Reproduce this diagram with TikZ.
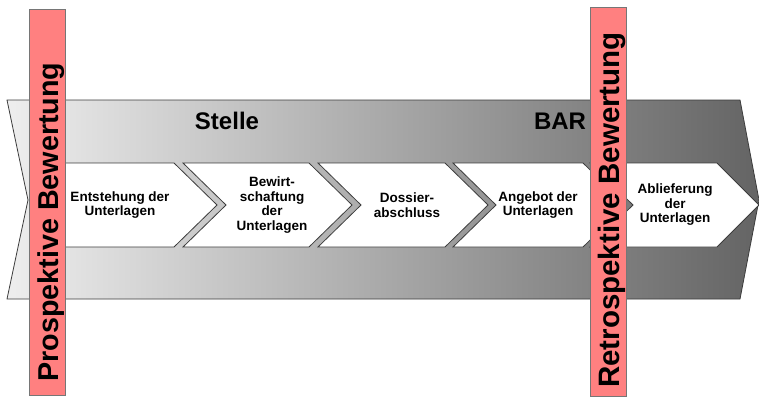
\documentclass[tikz,border=0pt]{standalone}
\usepackage{fontspec}
\setmainfont{Liberation Sans}
\definecolor{barred}{RGB}{255,128,128}
\definecolor{bandleft}{RGB}{238,238,238}
\definecolor{bandright}{RGB}{100,100,100}
\definecolor{edgecol}{RGB}{60,60,60}
\tikzset{
  chev/.style={fill=white, draw=edgecol, line width=0.8pt, line join=miter},
  steptext/.style={font=\fontsize{13.5}{14.5}\selectfont\bfseries, align=center, inner sep=0pt},
  bartext/.style={rotate=90, anchor=base, inner sep=0pt},
  barbox/.style={fill=barred, draw=edgecol!70, line width=0.8pt},
  hdr/.style={font=\fontsize{24}{26}\selectfont\bfseries, inner sep=0pt}
}
\begin{document}
\begin{tikzpicture}[x=1pt,y=-1pt]
\useasboundingbox (0,0) rectangle (759,396);
% big background arrow
\shadedraw[left color=bandleft, right color=bandright, draw=edgecol, line width=0.8pt]
  (7,100) -- (740,100) -- (759,200) -- (740,299) -- (7,299) -- (28,200) -- cycle;
% headers
\node[hdr] (stelle) at (227,121) {Stelle};
\node[hdr] (bar) at (560,121) {BAR};
% chevrons
\draw[chev] (45,163) -- (174,163) -- (217,205) -- (174,247) -- (45,247) -- cycle;
\draw[chev] (183,163) -- (309,163) -- (352,205) -- (309,247) -- (183,247) -- (226,205) -- cycle;
\draw[chev] (318,163) -- (445,163) -- (488,205) -- (445,247) -- (318,247) -- (361,205) -- cycle;
\draw[chev] (453,163) -- (583,163) -- (626,205) -- (583,247) -- (453,247) -- (496,205) -- cycle;
\draw[chev] (590,163) -- (717,163) -- (759,205) -- (717,247) -- (590,247) -- (633,205) -- cycle;
% step texts
\node[steptext] (s1) at (120,205) {Entstehung der\\Unterlagen};
\node[steptext] (s2) at (272,205) {Bewirt-\\schaftung\\der\\Unterlagen};
\node[steptext] (s3) at (407,205) {Dossier-\\abschluss};
\node[steptext] (s4) at (538,205) {Angebot der\\Unterlagen};
\node[steptext] (s5) at (675,205) {Ablieferung\\der\\Unterlagen};
% red bars
\draw[barbox] (29,9) rectangle (65,395);
\draw[barbox] (590,7) rectangle (626,396);
\node[bartext, font=\fontsize{28.7}{30}\selectfont\bfseries] (pros) at (58,222) {Prospektive Bewertung};
\node[bartext, font=\fontsize{29.5}{31}\selectfont\bfseries] (retro) at (619,210) {Retrospektive Bewertung};
\end{tikzpicture}
\end{document}
